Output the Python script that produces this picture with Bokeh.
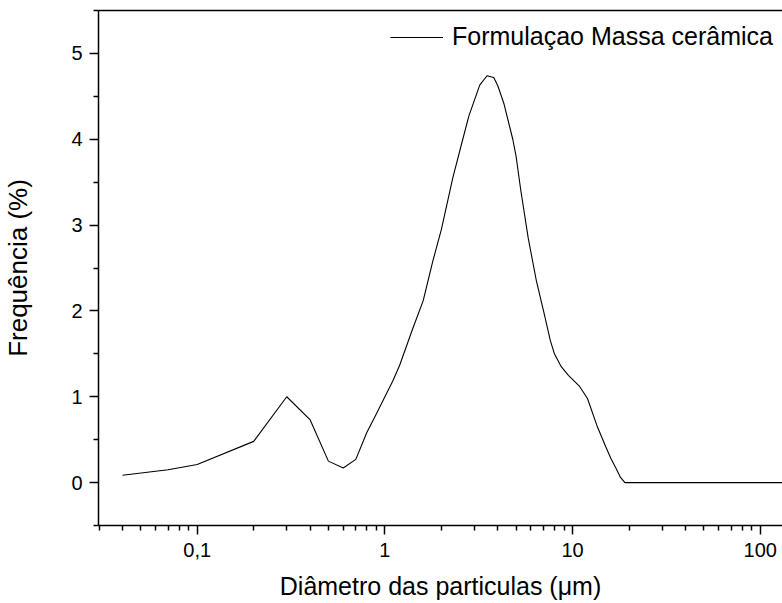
from bokeh.plotting import figure
from bokeh.models import FixedTicker, LogAxis, Legend, LegendItem
from bokeh.embed import file_html
from bokeh.resources import INLINE

# Data
diametro = [0.04, 0.07, 0.1, 0.2, 0.3, 0.4, 0.5, 0.6, 0.7, 0.8, 0.9, 1.0, 1.1, 1.2,
            1.4, 1.6, 1.8, 2.0, 2.3, 2.6, 2.8, 3.2, 3.5, 3.8, 4.0, 4.3, 4.8, 5.0,
            5.3, 5.8, 6.4, 7.0, 7.6, 8.0, 8.7, 9.5, 10.9, 12.0, 13.5, 15.0, 16.0,
            17.0, 18.0, 19.0, 20.0, 50.0, 100.0, 200.0]
frequencia = [0.085, 0.15, 0.21, 0.48, 1.00, 0.73, 0.25, 0.17, 0.27, 0.58, 0.80, 1.00,
              1.18, 1.37, 1.78, 2.12, 2.58, 2.95, 3.55, 4.00, 4.27, 4.63, 4.74, 4.72,
              4.62, 4.42, 4.00, 3.80, 3.40, 2.85, 2.36, 2.00, 1.66, 1.50, 1.35, 1.25,
              1.12, 0.98, 0.66, 0.42, 0.28, 0.17, 0.06, 0.0, 0.0, 0.0, 0.0, 0.0]

x_major = [0.1, 1, 10, 100]
x_major_labels = {0.1: "0,1", 1: "1", 10: "10", 100: "100"}
x_minor = [0.03, 0.04, 0.05, 0.06, 0.07, 0.08, 0.09,
           0.2, 0.3, 0.4, 0.5, 0.6, 0.7, 0.8, 0.9,
           2, 3, 4, 5, 6, 7, 8, 9,
           20, 30, 40, 50, 60, 70, 80, 90]
y_major = [0, 1, 2, 3, 4, 5]
y_minor = [-0.5, 0.5, 1.5, 2.5, 3.5, 4.5, 5.5]

serie_nome = "Formulaçao Massa cerâmica"
x_titulo = "Diâmetro das particulas (μm)"
y_titulo = "Frequência (%)"

FONT = "Liberation Sans"

p = figure(width=782, height=603, x_axis_type="log",
           x_range=(0.0298, 131.3), y_range=(-0.5, 5.5),
           output_backend="svg", toolbar_location=None,
           min_border_left=98, min_border_top=10, min_border_right=0,
           min_border_bottom=78)

p.outline_line_color = None
p.grid.visible = False
p.background_fill_color = "white"
p.border_fill_color = "white"

r = p.line(diametro, frequencia, line_color="black", line_width=1.1)

# x axis
xa = p.xaxis[0]
xa.ticker = FixedTicker(ticks=x_major, minor_ticks=x_minor)
xa.major_label_overrides = x_major_labels
xa.axis_label = x_titulo
# y axis
ya = p.yaxis[0]
ya.ticker = FixedTicker(ticks=y_major, minor_ticks=y_minor)
ya.axis_label = y_titulo

for ax in (xa, ya):
    ax.axis_line_color = "black"
    ax.axis_line_width = 1.5
    ax.major_tick_line_color = "black"
    ax.major_tick_line_width = 1.5
    ax.minor_tick_line_color = "black"
    ax.minor_tick_line_width = 1.5
    ax.major_tick_out = 9
    ax.major_tick_in = 0
    ax.minor_tick_out = 5
    ax.minor_tick_in = 0
    ax.major_label_text_font = FONT
    ax.major_label_text_font_size = "20px"
    ax.major_label_text_color = "black"
    ax.axis_label_text_font = FONT
    ax.axis_label_text_font_size = "25px"
    ax.axis_label_text_font_style = "normal"
    ax.axis_label_text_color = "black"

ya.axis_label_text_font_size = "26px"
xa.major_label_standoff = 8
xa.axis_label_standoff = 12
ya.major_label_standoff = 7
ya.axis_label_standoff = 35

# top frame line
top = LogAxis(ticker=FixedTicker(ticks=[], minor_ticks=[]),
              axis_line_color="black", axis_line_width=1.5,
              major_tick_out=0, major_tick_in=0, minor_tick_out=0, minor_tick_in=0,
              major_label_text_font_size="0px")
p.add_layout(top, "above")

legend = Legend(items=[LegendItem(label=serie_nome, renderers=[r])],
                location=(292, 474), padding=0, margin=0, spacing=0,
                border_line_color=None, background_fill_color=None,
                glyph_width=53, glyph_height=20, label_standoff=9,
                label_text_font=FONT, label_text_font_size="25px",
                label_text_color="black")
p.add_layout(legend, "center")

open("out.html", "w").write(file_html(p, INLINE))
